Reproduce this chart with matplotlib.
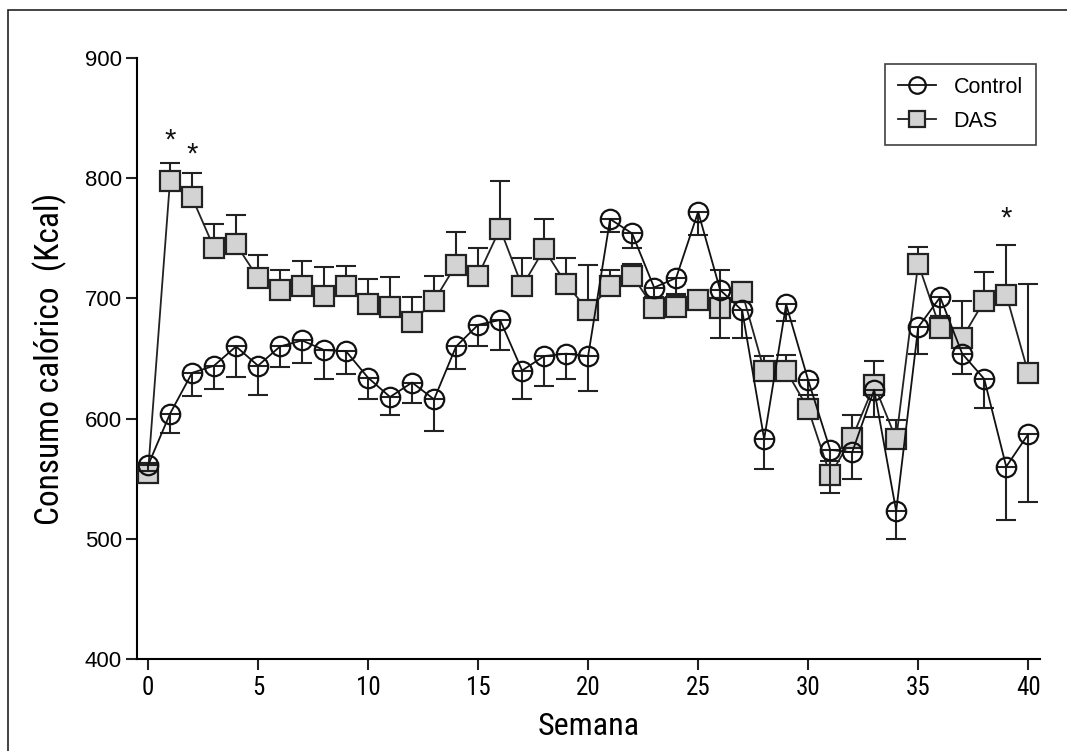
import matplotlib
matplotlib.use('Agg')
import matplotlib.pyplot as plt
from matplotlib.patches import Rectangle
import numpy as np

plt.rcParams['font.family'] = ['Liberation Sans', 'DejaVu Sans']
narrow = ['Roboto Condensed', 'Liberation Sans']

semanas = list(range(0, 41))

control = [561, 604, 638, 644, 660, 644, 660, 665, 657, 656,
           634, 618, 630, 616, 660, 678, 682, 640, 652, 654,
           652, 766, 754, 709, 717, 772, 707, 690, 583, 695,
           632, 574, 572, 624, 523, 676, 701, 654, 633, 560,
           587]
control_err = [5, 16, 19, 19, 25, 24, 17, 19, 24, 19,
               18, 15, 17, 26, 19, 18, 25, 24, 25, 21,
               29, 11, 12, 8, 13, 19, 40, 23, 25, 14,
               16, 36, 22, 23, 23, 22, 16, 17, 24, 44,
               56]

das = [555, 798, 784, 742, 745, 717, 707, 710, 702, 710,
       695, 693, 680, 698, 728, 719, 758, 710, 741, 712,
       690, 710, 719, 692, 693, 699, 692, 705, 640, 640,
       608, 553, 584, 628, 583, 729, 675, 667, 698, 703,
       638]
das_err = [5, 15, 20, 20, 24, 19, 17, 21, 24, 17,
           21, 25, 21, 21, 27, 23, 40, 24, 25, 22,
           38, 14, 10, 8, 10, 5, 32, 9, 12, 13,
           12, 12, 19, 20, 16, 14, 10, 31, 24, 41,
           74]

# semanas con diferencia significativa
sig_semanas = [1, 2, 39]
sig_y = [831, 820, 766]

fig = plt.figure(figsize=(10.67, 7.51), dpi=100)
ax = fig.add_axes([0.1284, 0.1225, 0.8466, 0.8003])

# marco de la figura
fig.patches.append(Rectangle((8/1067, -0.05), 1.2, 1 - 10/751 + 0.05,
                             transform=fig.transFigure, fill=False,
                             edgecolor='#222222', linewidth=1.2))

# DAS (error hacia arriba)
ax.errorbar(semanas, das, yerr=[np.zeros(len(das)), das_err], fmt='none',
            ecolor='#222222', elinewidth=1.5, capsize=7, capthick=1.5, zorder=2)
ax.plot(semanas, das, color='#222222', linewidth=1.3, marker='s', markersize=14,
        markerfacecolor='#d3d3d3', markeredgecolor='#222222', markeredgewidth=1.6,
        label='DAS', zorder=3)

# Control (error hacia abajo)
ax.errorbar(semanas, control, yerr=[control_err, np.zeros(len(control))], fmt='none',
            ecolor='#222222', elinewidth=1.5, capsize=7, capthick=1.5, zorder=4)
ax.plot(semanas, control, color='#111111', linewidth=1.3, marker='o', markersize=14,
        markerfacecolor='none', markeredgecolor='#111111', markeredgewidth=1.6,
        label='Control', zorder=5)

for s, yy in zip(sig_semanas, sig_y):
    ax.text(s, yy, '*', ha='center', va='center', fontsize=21, color='#111111')

ax.set_xlim(-0.5, 40.55)
ax.set_ylim(400, 900)
ax.set_xticks(range(0, 41, 5))
ax.set_yticks(range(400, 901, 100))

ax.spines['top'].set_visible(False)
ax.spines['right'].set_visible(False)
ax.spines['left'].set_linewidth(1.5)
ax.spines['bottom'].set_linewidth(1.5)
ax.tick_params(axis='both', direction='out', length=8, width=1.5, colors='#222222')
ax.tick_params(axis='y', labelsize=16, pad=3)
ax.tick_params(axis='x', labelsize=18, pad=4)
for lab in ax.get_xticklabels():
    lab.set_family(narrow)
    lab.set_color('black')
for lab in ax.get_yticklabels():
    lab.set_color('black')

ax.set_xlabel('Semana', fontsize=23, family=narrow, labelpad=9)
ax.set_ylabel('Consumo calórico  (Kcal)', fontsize=24, family=narrow, labelpad=13)

h, l = ax.get_legend_handles_labels()
leg = ax.legend(h[::-1], l[::-1], loc='upper right', bbox_to_anchor=(0.995, 0.99),
                borderaxespad=0, fontsize=15.5, frameon=True, fancybox=False,
                handlelength=1.8, handletextpad=0.8, borderpad=0.6, labelspacing=0.6,
                markerscale=0.85)
leg.get_frame().set_edgecolor('#111111')
leg.get_frame().set_linewidth(1.2)

fig.savefig('out.png', dpi=100)
